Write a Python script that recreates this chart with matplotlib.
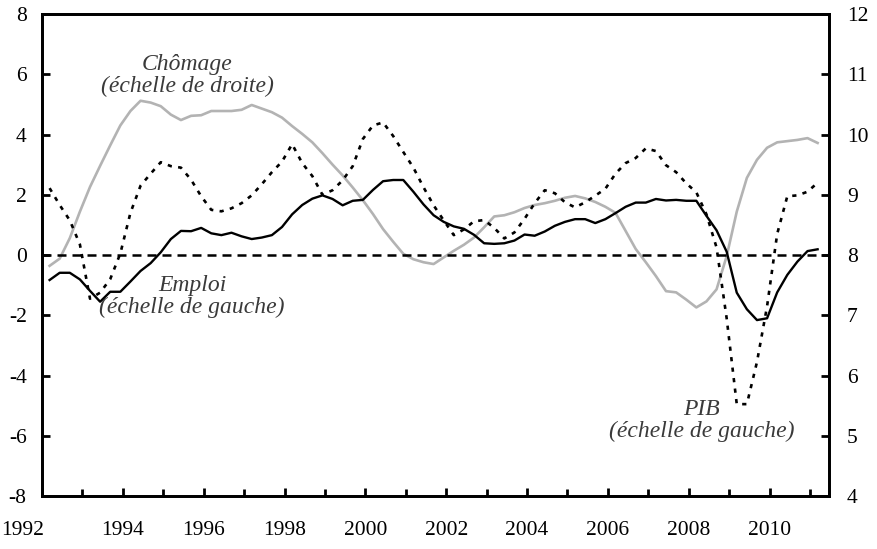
import numpy as np
import matplotlib
matplotlib.use("Agg")
import matplotlib.pyplot as plt
import matplotlib.transforms as mtransforms
from matplotlib.ticker import MultipleLocator

# quarterly points, 1992Q1 .. 2011Q1 (plotted at quarter end)
quarters = 1992.1875 + np.arange(77) / 4.0

emploi = [
    -0.83, -0.59, -0.59, -0.81, -1.19, -1.55, -1.22, -1.22, -0.88, -0.53,
    -0.27, 0.09, 0.53, 0.80, 0.79, 0.90, 0.72, 0.66, 0.74, 0.62,
    0.53, 0.58, 0.66, 0.93, 1.35, 1.66, 1.87, 1.98, 1.86, 1.65,
    1.80, 1.83, 2.16, 2.45, 2.49, 2.49, 2.10, 1.68, 1.32, 1.10,
    0.95, 0.87, 0.67, 0.39, 0.37, 0.39, 0.48, 0.68, 0.64, 0.78,
    0.97, 1.10, 1.19, 1.19, 1.06, 1.19, 1.39, 1.60, 1.74, 1.74,
    1.86, 1.81, 1.83, 1.80, 1.80, 1.30, 0.82, 0.11, -1.25, -1.80,
    -2.16, -2.10, -1.24, -0.66, -0.22, 0.13, 0.19,
]

pib = [
    2.22, 1.66, 1.15, 0.35, -1.45, -1.25, -0.80, 0.05, 1.40, 2.30,
    2.70, 3.08, 2.95, 2.90, 2.50, 1.95, 1.50, 1.45, 1.55, 1.72,
    1.98, 2.35, 2.75, 3.10, 3.68, 3.05, 2.62, 2.00, 2.15, 2.48,
    2.95, 3.85, 4.30, 4.40, 3.95, 3.42, 2.90, 2.25, 1.65, 1.15,
    0.66, 0.85, 1.12, 1.16, 0.90, 0.55, 0.75, 1.20, 1.72, 2.15,
    2.05, 1.75, 1.58, 1.75, 1.97, 2.20, 2.70, 3.05, 3.22, 3.54,
    3.45, 2.98, 2.75, 2.38, 2.08, 1.35, 0.25, -2.10, -4.95, -4.95,
    -3.55, -1.70, 0.70, 1.95, 1.98, 2.10, 2.40,
]

chomage = [
    7.82, 7.94, 8.28, 8.72, 9.13, 9.48, 9.82, 10.15, 10.39, 10.56,
    10.53, 10.47, 10.33, 10.24, 10.31, 10.32, 10.39, 10.39, 10.39, 10.41,
    10.49, 10.43, 10.37, 10.28, 10.14, 10.01, 9.87, 9.69, 9.50, 9.32,
    9.12, 8.91, 8.68, 8.43, 8.22, 8.02, 7.93, 7.88, 7.85, 7.96,
    8.07, 8.17, 8.29, 8.46, 8.64, 8.66, 8.71, 8.78, 8.83, 8.86,
    8.90, 8.95, 8.98, 8.94, 8.88, 8.80, 8.70, 8.40, 8.10, 7.88,
    7.65, 7.40, 7.38, 7.26, 7.13, 7.23, 7.43, 7.98, 8.72, 9.28,
    9.58, 9.78, 9.87, 9.89, 9.91, 9.94, 9.86,
]

year_labels = list(range(1992, 2011, 2))

FONT = "Liberation Serif"
FS_TICK = 15.5
FS_NOTE = 17
TEXT_GREY = "#3a3a3a"

plt.rcParams["font.family"] = FONT
plt.rcParams["font.size"] = FS_TICK
plt.rcParams["axes.unicode_minus"] = False

fig = plt.figure(figsize=(8.77, 5.49), dpi=100)
ax = fig.add_axes([0.0479, 0.0965, 0.9453 - 0.0479, 0.9745 - 0.0965])
ax2 = ax.twinx()

ax2.plot(quarters, chomage, color="#b3b3b3", lw=1.9, zorder=1)
ax.axhline(0, color="black", lw=1.8, dashes=(3.6, 2.4), zorder=2)
ax.plot(quarters, pib, color="black", lw=1.9, dashes=(1.6, 2.4), zorder=3)
ax.plot(quarters, emploi, color="black", lw=1.7, zorder=4)

ax.set_zorder(ax2.get_zorder() + 1)
ax.patch.set_visible(False)

ax.set_xlim(1992, 2011.47)
ax.set_ylim(-8, 8)
ax2.set_ylim(4, 12)

ax.set_xticks(year_labels)
ax.set_xticklabels([str(y) for y in year_labels])
ax.xaxis.set_minor_locator(MultipleLocator(1))
ax.yaxis.set_major_locator(MultipleLocator(2))
ax2.yaxis.set_major_locator(MultipleLocator(1))

for a in (ax, ax2):
    for sp in a.spines.values():
        sp.set_linewidth(2.0)

ax.tick_params(axis="x", which="major", direction="in", length=6, width=2, pad=18)
ax.tick_params(axis="x", which="minor", direction="in", length=5, width=2)
ax.tick_params(axis="y", direction="in", length=6, width=2, pad=11)
ax2.tick_params(axis="y", direction="in", length=6, width=2, pad=13)

# first year label sits left of its tick, as in the source
first = ax.xaxis.get_majorticklabels()[0]
first.set_horizontalalignment("right")
first.set_transform(first.get_transform()
                    + mtransforms.ScaledTranslation(2 / 100, 0, fig.dpi_scale_trans))

ax.text(1995.59, 5.95, "Chômage\n(échelle de droite)", style="italic",
        color=TEXT_GREY, ha="center", va="center", fontsize=FS_NOTE,
        linespacing=1.05)
ax.text(1995.71, -1.38, "Emploi\n(échelle de gauche)", style="italic",
        color=TEXT_GREY, ha="center", va="center", fontsize=FS_NOTE,
        linespacing=1.05)
ax.text(2008.32, -5.48, "PIB\n(échelle de gauche)", style="italic",
        color=TEXT_GREY, ha="center", va="center", fontsize=FS_NOTE,
        linespacing=1.05)

fig.savefig("out.png", dpi=100)
